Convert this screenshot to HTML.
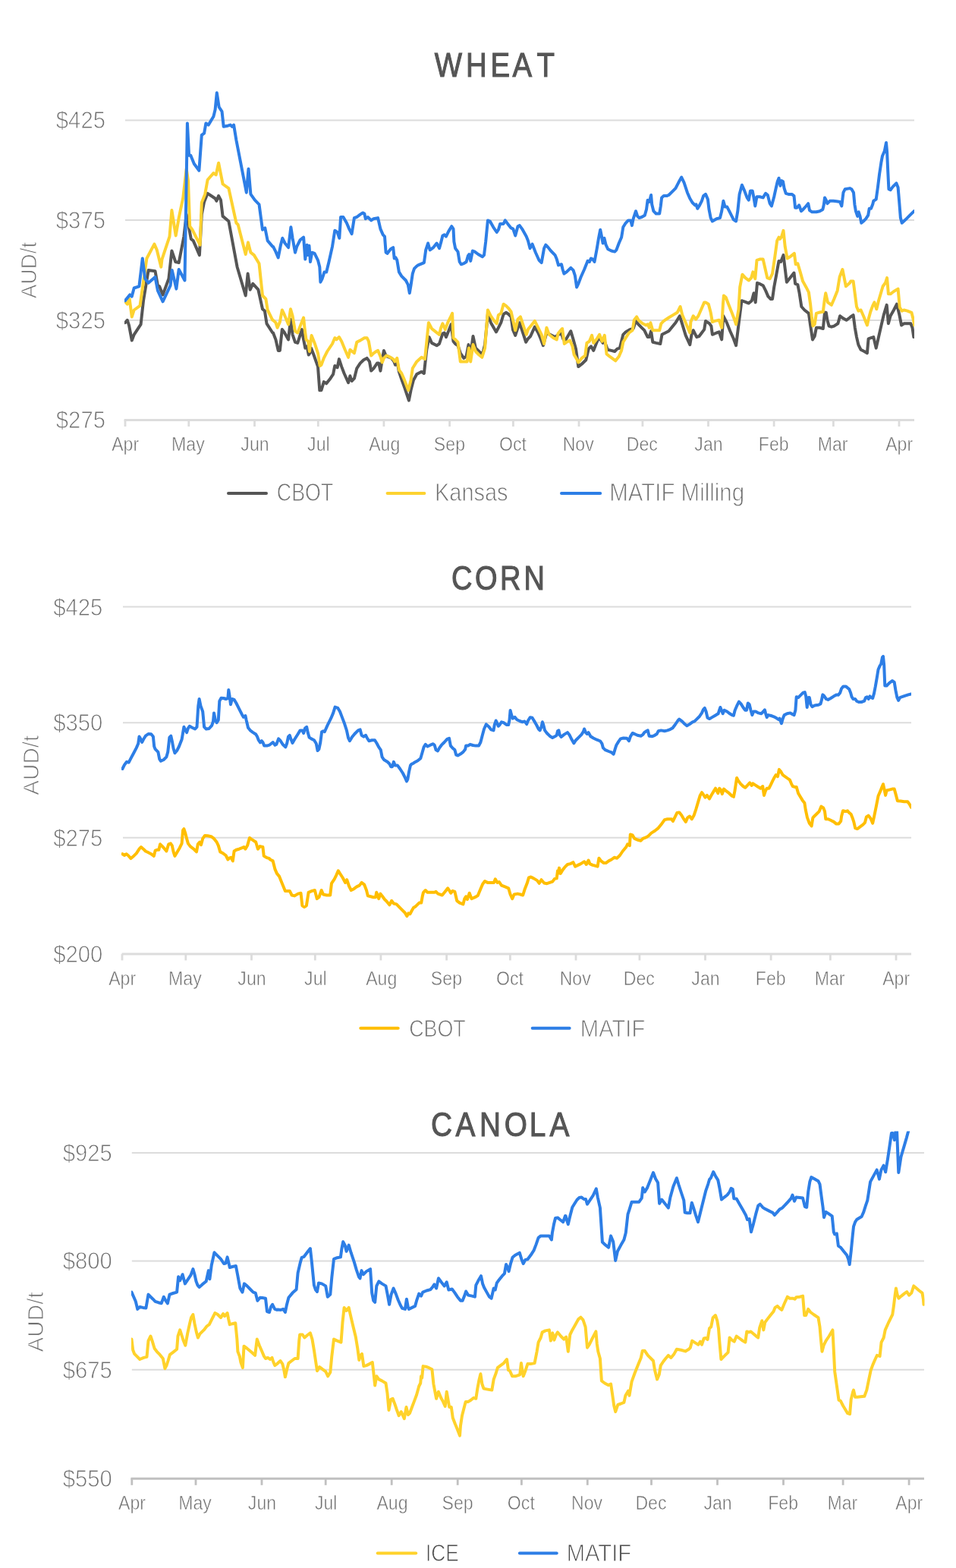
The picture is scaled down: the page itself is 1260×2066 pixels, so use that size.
<!DOCTYPE html><html><head><meta charset="utf-8"><title>Grain prices: Wheat, Corn, Canola</title><style>html,body{margin:0;padding:0;background:#fff;width:1260px;height:2066px;overflow:hidden}svg{display:block}text{font-family:'Liberation Sans', Arial, sans-serif}.lt{stroke:#fff;stroke-width:0.9}.lm{stroke:#fff;stroke-width:0.55}</style></head><body>
<svg width="1260" height="2066" viewBox="0 0 1260 2066">
<g>
<text transform="translate(0 101.00) scale(0.8547 1)" x="670.24 718.52 756.53 790.30 827.81" font-size="44.93" fill="#555555" stroke="#555555" stroke-width="1.10">WHEAT</text>
<line x1="165.0" y1="158.4" x2="1205.0" y2="158.4" stroke="#dcdcdc" stroke-width="2"/>
<line x1="165.0" y1="290.0" x2="1205.0" y2="290.0" stroke="#dcdcdc" stroke-width="2"/>
<line x1="165.0" y1="421.9" x2="1205.0" y2="421.9" stroke="#dcdcdc" stroke-width="2"/>
<line x1="163.6" y1="553.5" x2="1205.0" y2="553.5" stroke="#dcdcdc" stroke-width="3"/>
<line x1="165.0" y1="553.5" x2="165.0" y2="562.0" stroke="#dcdcdc" stroke-width="2.8"/>
<text class="lm" transform="translate(147.20 594.10) scale(0.8813 1)" font-size="26.23" fill="#6f6f6f">Apr</text>
<line x1="248.8" y1="553.5" x2="248.8" y2="562.0" stroke="#dcdcdc" stroke-width="2.8"/>
<text class="lm" transform="translate(226.07 594.10) scale(0.8813 1)" font-size="26.23" fill="#6f6f6f">May</text>
<line x1="335.5" y1="553.5" x2="335.5" y2="562.0" stroke="#dcdcdc" stroke-width="2.8"/>
<text class="lm" transform="translate(317.32 594.10) scale(0.8813 1)" font-size="26.23" fill="#6f6f6f">Jun</text>
<line x1="419.3" y1="553.5" x2="419.3" y2="562.0" stroke="#dcdcdc" stroke-width="2.8"/>
<text class="lm" transform="translate(405.08 594.10) scale(0.8813 1)" font-size="26.23" fill="#6f6f6f">Jul</text>
<line x1="505.9" y1="553.5" x2="505.9" y2="562.0" stroke="#dcdcdc" stroke-width="2.8"/>
<text class="lm" transform="translate(486.17 594.10) scale(0.8813 1)" font-size="26.23" fill="#6f6f6f">Aug</text>
<line x1="592.6" y1="553.5" x2="592.6" y2="562.0" stroke="#dcdcdc" stroke-width="2.8"/>
<text class="lm" transform="translate(571.87 594.10) scale(0.8813 1)" font-size="26.23" fill="#6f6f6f">Sep</text>
<line x1="676.4" y1="553.5" x2="676.4" y2="562.0" stroke="#dcdcdc" stroke-width="2.8"/>
<text class="lm" transform="translate(657.90 594.10) scale(0.8813 1)" font-size="26.23" fill="#6f6f6f">Oct</text>
<line x1="763.0" y1="553.5" x2="763.0" y2="562.0" stroke="#dcdcdc" stroke-width="2.8"/>
<text class="lm" transform="translate(741.64 594.10) scale(0.8813 1)" font-size="26.23" fill="#6f6f6f">Nov</text>
<line x1="846.9" y1="553.5" x2="846.9" y2="562.0" stroke="#dcdcdc" stroke-width="2.8"/>
<text class="lm" transform="translate(825.71 594.10) scale(0.8813 1)" font-size="26.23" fill="#6f6f6f">Dec</text>
<line x1="933.5" y1="553.5" x2="933.5" y2="562.0" stroke="#dcdcdc" stroke-width="2.8"/>
<text class="lm" transform="translate(915.35 594.10) scale(0.8813 1)" font-size="26.23" fill="#6f6f6f">Jan</text>
<line x1="1020.1" y1="553.5" x2="1020.1" y2="562.0" stroke="#dcdcdc" stroke-width="2.8"/>
<text class="lm" transform="translate(999.78 594.10) scale(0.8813 1)" font-size="26.23" fill="#6f6f6f">Feb</text>
<line x1="1098.4" y1="553.5" x2="1098.4" y2="562.0" stroke="#dcdcdc" stroke-width="2.8"/>
<text class="lm" transform="translate(1077.68 594.10) scale(0.8813 1)" font-size="26.23" fill="#6f6f6f">Mar</text>
<line x1="1185.0" y1="553.5" x2="1185.0" y2="562.0" stroke="#dcdcdc" stroke-width="2.8"/>
<text class="lm" transform="translate(1167.20 594.10) scale(0.8813 1)" font-size="26.23" fill="#6f6f6f">Apr</text>
<text class="lt" transform="translate(73.81 169.30) scale(0.9277 1)" font-size="31.59" fill="#6f6f6f">$425</text>
<text class="lt" transform="translate(73.81 300.90) scale(0.9277 1)" font-size="31.59" fill="#6f6f6f">$375</text>
<text class="lt" transform="translate(73.81 432.80) scale(0.9277 1)" font-size="31.59" fill="#6f6f6f">$325</text>
<text class="lt" transform="translate(73.81 564.40) scale(0.9277 1)" font-size="31.59" fill="#6f6f6f">$275</text>
<text class="lt" transform="translate(47.70 393.20) rotate(-90) scale(0.9624 1)" font-size="28.99" fill="#6f6f6f">AUD/t</text>
<clipPath id="clip_wheat"><rect x="164.0" y="100.0" width="1041.0" height="460.0"/></clipPath>
<g clip-path="url(#clip_wheat)">
<path d="M164.9 425.2 L167.8 421.8 L170.0 428.5 L173.8 448.6 L176.7 440.8 L185.6 427.4 L189.0 396.2 L195.6 356.1 L204.5 357.2 L207.9 376.2 L210.1 377.3 L214.6 388.4 L222.4 367.3 L226.4 330.5 L231.3 345.0 L235.7 346.1 L242.4 311.6 L245.7 282.6 L249.1 300.4 L251.8 314.9 L254.7 317.1 L262.9 336.1 L265.8 282.6 L269.1 265.9 L273.6 254.8 L283.6 261.5 L285.4 264.8 L288.1 258.1 L291.0 263.7 L293.6 284.9 L301.4 291.5 L312.6 351.7 L323.7 389.5 L326.6 360.6 L329.7 381.7 L333.3 373.9 L340.4 381.7 L346.0 407.3 L348.9 409.6 L351.5 426.3 L359.3 438.5 L360.0 438.5 L363.4 447.4 L366.7 461.9 L368.9 461.9 L371.8 434.1 L374.5 437.4 L380.1 447.4 L383.0 420.7 L385.6 440.8 L389.0 450.8 L392.3 451.9 L397.9 434.1 L400.1 447.4 L402.3 458.6 L404.6 456.3 L406.8 467.5 L408.4 465.3 L410.1 458.6 L413.5 467.5 L419.0 483.1 L421.3 514.3 L423.5 514.3 L426.8 503.1 L430.2 505.3 L434.6 499.8 L439.1 493.1 L441.3 482.0 L444.7 484.2 L446.9 473.1 L450.2 483.1 L453.6 492.0 L459.1 504.2 L461.4 495.3 L463.6 502.0 L466.9 498.7 L470.3 485.3 L474.7 478.6 L479.2 474.2 L483.6 471.9 L487.0 476.4 L489.2 488.6 L492.5 485.3 L497.0 478.6 L499.2 478.6 L501.4 488.6 L503.7 474.2 L505.9 461.9 L508.1 467.5 L510.4 469.7 L515.9 471.9 L519.3 476.4 L521.0 480.8 L523.3 475.3 L525.9 489.8 L529.3 499.8 L533.7 512.0 L538.9 527.6 L541.5 514.3 L544.9 500.9 L549.3 493.1 L555.6 489.8 L558.9 492.0 L562.3 460.8 L565.6 444.1 L569.0 451.9 L575.6 455.2 L579.0 453.0 L583.4 439.6 L585.7 438.5 L587.9 444.1 L591.2 436.3 L594.6 427.4 L597.5 449.7 L600.1 453.0 L603.5 455.2 L606.8 465.3 L611.3 471.9 L614.6 469.7 L617.5 454.1 L620.2 467.5 L623.5 443.0 L626.9 458.6 L631.3 463.0 L635.8 467.5 L639.1 454.1 L642.9 414.0 L646.9 425.2 L651.4 433.0 L654.0 437.4 L656.9 431.8 L660.3 425.2 L663.6 414.0 L666.9 411.8 L670.3 414.0 L673.6 417.4 L675.9 434.1 L679.2 441.9 L682.5 431.8 L684.8 425.2 L689.2 438.5 L693.2 450.8 L695.9 446.3 L699.2 443.0 L704.8 430.7 L709.3 438.5 L712.6 446.3 L715.9 455.2 L720.4 438.5 L724.9 440.8 L731.5 444.1 L736.0 440.8 L740.0 439.6 L742.2 446.3 L744.5 449.7 L747.8 444.1 L752.3 436.3 L755.6 447.4 L759.0 459.7 L762.3 483.1 L766.7 479.7 L772.3 474.2 L775.7 459.7 L779.0 456.3 L782.3 461.9 L785.7 453.0 L789.0 445.2 L792.4 448.6 L794.6 451.9 L796.8 449.7 L800.8 460.8 L805.7 461.9 L810.2 463.0 L813.5 459.7 L816.9 458.6 L821.3 440.8 L824.7 437.4 L830.2 434.1 L834.7 433.0 L838.0 422.9 L841.4 427.4 L845.8 431.8 L849.2 435.2 L853.6 444.1 L855.8 444.1 L858.1 436.3 L860.3 450.8 L864.7 451.9 L870.3 453.0 L872.5 440.8 L877.0 438.5 L881.4 436.3 L885.9 430.7 L890.4 425.2 L895.9 416.3 L899.3 427.4 L903.7 441.9 L909.3 454.1 L911.5 440.8 L913.7 435.2 L918.2 444.1 L921.5 443.0 L924.9 438.5 L928.2 434.1 L930.0 422.9 L931.6 424.1 L935.1 426.3 L937.4 429.6 L938.9 440.8 L944.5 438.5 L947.8 437.4 L951.2 447.4 L953.4 416.3 L957.9 425.2 L962.3 436.3 L966.8 446.3 L970.1 455.2 L973.5 427.4 L977.5 396.2 L981.2 397.3 L986.8 399.6 L990.8 396.2 L993.5 386.2 L995.7 398.4 L998.0 372.8 L1001.3 373.9 L1005.7 376.2 L1009.1 382.9 L1012.4 390.6 L1015.8 394.0 L1018.0 394.0 L1020.2 378.4 L1022.9 363.9 L1026.5 343.9 L1029.1 345.0 L1032.5 336.1 L1034.7 353.9 L1036.9 371.7 L1041.4 366.1 L1046.5 359.5 L1048.1 373.9 L1051.4 375.1 L1053.6 386.2 L1056.3 404.0 L1060.3 408.5 L1065.9 412.9 L1068.1 428.5 L1071.0 447.4 L1073.7 443.0 L1075.9 431.8 L1080.4 431.8 L1084.8 433.0 L1087.0 411.8 L1088.8 411.8 L1090.4 421.8 L1092.6 429.6 L1095.9 430.7 L1099.3 429.6 L1104.4 426.3 L1107.1 416.3 L1111.5 419.6 L1115.5 421.8 L1120.0 418.5 L1121.2 417.4 L1124.6 415.1 L1126.8 431.8 L1129.0 444.1 L1131.3 454.1 L1134.6 460.8 L1139.1 463.0 L1142.9 465.3 L1144.6 446.3 L1148.0 445.2 L1151.3 444.1 L1154.7 458.6 L1158.0 444.1 L1161.3 429.6 L1164.7 415.1 L1168.7 401.8 L1170.9 426.3 L1173.6 416.3 L1178.0 408.5 L1182.0 400.7 L1185.2 414.0 L1188.1 428.5 L1191.4 426.3 L1195.9 426.3 L1200.3 426.3 L1202.5 431.8 L1204.3 444.1" fill="none" stroke="#555555" stroke-width="4" stroke-linejoin="round" stroke-linecap="round"/>
<path d="M164.9 397.3 L167.8 400.7 L170.7 394.0 L173.8 417.4 L176.7 408.5 L184.5 402.9 L193.4 340.5 L203.4 321.6 L206.8 329.4 L212.3 351.7 L213.5 341.6 L223.5 311.6 L226.4 277.1 L231.7 310.5 L235.7 287.1 L241.3 260.4 L245.7 222.5 L248.0 238.1 L250.2 298.2 L253.5 302.7 L263.6 322.7 L265.8 267.0 L270.2 255.9 L273.6 237.0 L281.4 228.1 L284.7 230.3 L288.1 214.7 L293.6 242.5 L301.4 248.1 L311.4 293.8 L313.7 296.0 L323.7 335.0 L327.0 319.4 L330.4 332.7 L334.8 336.1 L341.5 347.2 L346.0 389.5 L350.4 394.0 L352.7 408.5 L359.3 421.8 L360.0 421.8 L363.4 425.2 L365.6 431.8 L368.9 424.1 L371.8 408.5 L374.5 414.0 L380.1 427.4 L383.0 407.3 L385.6 416.3 L389.0 436.3 L392.3 438.5 L395.7 429.6 L400.1 418.5 L401.7 434.1 L403.5 447.4 L406.1 449.7 L407.9 463.0 L410.6 441.9 L414.6 451.9 L419.0 465.3 L421.7 482.0 L423.5 480.8 L426.8 471.9 L431.3 463.0 L438.0 453.0 L441.3 445.2 L443.5 447.4 L446.9 444.1 L450.2 449.7 L454.7 460.8 L459.1 470.8 L461.4 460.8 L466.9 465.3 L470.3 450.8 L474.7 448.6 L480.3 445.2 L483.6 445.2 L485.9 449.7 L489.2 468.6 L492.5 465.3 L495.9 463.0 L498.1 461.9 L501.4 469.7 L503.7 477.5 L505.9 471.9 L509.2 468.6 L512.6 469.7 L518.2 473.1 L520.4 476.4 L523.3 471.9 L525.9 487.5 L529.3 492.0 L533.1 500.9 L538.2 514.3 L541.5 500.9 L543.8 485.3 L549.3 476.4 L555.6 470.8 L560.0 473.1 L564.9 425.2 L569.0 433.0 L574.5 437.4 L579.0 440.8 L581.2 431.8 L583.4 426.3 L586.8 434.1 L590.1 425.2 L593.5 418.5 L596.1 412.9 L597.5 445.2 L600.1 447.4 L603.5 450.8 L606.8 476.4 L611.3 476.4 L615.7 476.4 L618.0 458.6 L620.2 476.4 L623.5 454.1 L626.9 463.0 L631.3 467.5 L635.3 470.8 L639.1 458.6 L642.9 408.5 L646.9 416.3 L651.4 422.9 L654.7 426.3 L656.9 415.1 L660.3 412.9 L663.6 400.7 L666.9 402.9 L670.3 406.2 L673.6 410.7 L675.9 420.7 L679.2 435.2 L682.5 420.7 L685.9 417.4 L689.2 427.4 L693.7 440.8 L695.9 434.1 L700.4 428.5 L704.8 422.9 L709.3 431.8 L713.7 440.8 L717.1 453.0 L720.4 431.8 L723.7 440.8 L729.3 445.2 L733.8 447.4 L735.5 439.6 L740.0 434.1 L741.1 433.0 L743.8 453.0 L746.7 450.8 L751.2 448.6 L754.5 456.3 L756.7 467.5 L760.1 473.1 L762.3 477.5 L766.7 471.9 L771.2 468.6 L773.4 451.9 L776.8 449.7 L780.1 441.9 L782.3 451.9 L786.8 446.3 L790.1 440.8 L793.5 449.7 L796.8 441.9 L799.5 466.4 L803.5 469.7 L811.3 475.3 L815.7 469.7 L819.1 461.9 L821.3 450.8 L824.7 445.2 L829.1 438.5 L833.6 435.2 L835.8 421.8 L839.1 417.4 L841.4 421.8 L846.9 426.3 L851.4 428.5 L853.6 427.4 L855.8 431.8 L857.4 425.2 L860.3 435.2 L863.6 435.2 L869.2 435.2 L871.4 426.3 L874.8 422.9 L881.4 418.5 L887.0 415.1 L892.6 411.8 L896.6 404.0 L899.3 415.1 L903.7 425.2 L909.3 438.5 L910.4 424.1 L913.7 416.3 L917.1 420.7 L920.4 416.3 L923.8 408.5 L928.2 398.4 L930.0 398.4 L933.8 400.7 L936.7 411.8 L938.9 424.1 L942.3 422.9 L947.8 421.8 L951.2 431.8 L953.0 399.6 L953.9 389.5 L956.7 391.8 L960.1 400.7 L964.5 411.8 L967.9 420.7 L970.1 427.4 L973.5 407.3 L975.2 378.4 L978.4 361.7 L982.4 366.1 L986.8 369.5 L990.2 366.1 L992.4 358.4 L995.3 367.3 L997.5 342.8 L1001.3 341.6 L1005.7 341.6 L1008.0 351.7 L1011.3 366.1 L1014.7 367.3 L1018.0 360.6 L1021.3 338.3 L1024.2 317.1 L1026.5 312.7 L1028.0 314.9 L1030.2 311.6 L1032.5 303.8 L1034.7 324.9 L1037.6 340.5 L1041.4 338.3 L1046.9 333.9 L1048.7 348.3 L1051.4 347.2 L1054.7 358.4 L1058.1 370.6 L1062.5 378.4 L1065.9 385.1 L1068.1 400.7 L1069.7 416.3 L1071.4 429.6 L1073.7 427.4 L1075.9 412.9 L1079.2 411.8 L1084.8 410.7 L1086.6 396.2 L1088.2 386.2 L1091.0 398.4 L1095.9 401.8 L1099.3 394.0 L1103.7 382.9 L1106.6 365.0 L1110.4 355.0 L1114.9 377.3 L1120.0 372.8 L1121.2 370.6 L1124.6 370.6 L1126.8 387.3 L1129.0 404.0 L1131.3 409.6 L1134.6 408.5 L1138.0 416.3 L1140.2 421.8 L1142.9 428.5 L1144.6 420.7 L1147.3 410.7 L1150.2 402.9 L1152.4 398.4 L1155.3 407.3 L1158.0 396.2 L1161.3 385.1 L1163.6 377.3 L1166.9 372.8 L1169.1 366.1 L1170.9 387.3 L1173.6 387.3 L1178.0 384.0 L1183.6 380.6 L1185.8 405.1 L1188.7 409.6 L1191.4 408.5 L1195.9 409.6 L1201.4 411.8 L1203.7 420.7 L1205.2 428.5" fill="none" stroke="#fdd230" stroke-width="4" stroke-linejoin="round" stroke-linecap="round"/>
<path d="M164.9 396.2 L171.1 388.4 L173.8 390.6 L176.7 379.5 L183.4 377.3 L187.8 340.5 L191.2 367.3 L195.6 372.8 L204.5 365.0 L207.9 382.9 L214.6 397.3 L224.6 376.2 L226.8 356.1 L232.4 380.6 L235.7 355.0 L243.5 369.5 L246.9 162.4 L249.1 204.7 L251.3 204.7 L255.8 215.8 L262.4 224.7 L265.8 178.0 L269.1 175.7 L271.4 162.4 L274.7 164.6 L281.4 153.5 L283.6 144.5 L285.8 122.3 L288.7 141.2 L292.5 146.8 L294.7 166.8 L300.3 165.7 L303.7 164.6 L305.9 166.8 L308.1 164.6 L311.4 184.6 L324.8 253.7 L327.5 222.5 L330.4 255.9 L335.9 263.7 L341.5 269.3 L346.0 302.7 L349.3 300.4 L352.7 317.1 L359.3 324.9 L360.0 324.9 L363.4 331.6 L366.7 339.4 L370.0 322.7 L372.3 313.8 L375.6 320.5 L380.1 326.1 L383.4 299.3 L385.6 313.8 L389.0 332.7 L391.2 324.9 L395.7 316.0 L400.1 312.7 L402.3 341.6 L404.6 322.7 L406.1 336.1 L407.5 323.8 L409.0 345.0 L411.2 332.7 L414.6 333.9 L419.0 342.8 L421.3 351.7 L422.4 371.7 L424.6 367.3 L427.5 358.4 L430.2 358.4 L433.5 345.0 L438.0 324.9 L441.3 303.8 L444.7 306.0 L447.3 313.8 L449.1 286.0 L452.4 286.0 L456.9 293.8 L460.2 301.6 L463.6 308.2 L466.9 287.1 L470.3 286.0 L474.7 282.6 L478.1 280.4 L480.3 281.5 L481.8 288.2 L484.7 286.0 L489.2 290.4 L492.5 288.2 L498.1 287.1 L501.4 301.6 L504.8 309.4 L507.0 311.6 L508.6 332.7 L510.4 333.9 L514.8 328.3 L518.2 326.1 L519.7 340.5 L521.5 339.4 L523.3 342.8 L525.9 358.4 L529.3 363.9 L534.9 369.5 L537.8 375.1 L539.8 386.2 L541.5 376.2 L543.8 360.6 L546.0 353.9 L549.3 350.6 L551.1 349.4 L558.9 346.1 L561.2 329.4 L564.1 320.5 L566.7 329.4 L571.2 326.1 L575.6 320.5 L579.0 327.2 L581.2 319.4 L583.4 310.5 L585.7 309.4 L587.9 311.6 L591.2 304.9 L595.2 298.2 L597.5 301.6 L598.4 318.3 L600.1 327.2 L603.5 331.6 L605.7 345.0 L607.9 348.3 L611.3 347.2 L614.6 345.0 L616.8 337.2 L618.4 335.0 L620.2 343.9 L622.9 330.5 L625.7 331.6 L630.2 335.0 L635.8 338.3 L638.0 336.1 L640.2 318.3 L642.9 290.4 L645.8 291.5 L650.2 299.3 L654.7 306.0 L656.9 302.7 L659.2 294.9 L661.4 294.9 L663.6 294.9 L665.8 290.4 L669.2 294.9 L673.6 300.4 L676.3 301.6 L679.2 310.5 L682.5 298.2 L684.8 297.1 L688.1 301.6 L693.7 311.6 L695.9 317.1 L698.6 327.2 L701.5 321.6 L705.9 332.7 L710.4 342.8 L713.7 346.1 L717.1 327.2 L719.3 322.7 L722.6 326.1 L726.0 330.5 L731.5 336.1 L733.8 341.6 L736.0 349.4 L740.0 348.3 L741.6 355.0 L743.4 360.6 L746.7 358.4 L752.3 352.8 L755.6 356.1 L757.8 362.8 L760.1 378.4 L762.3 373.9 L765.6 365.0 L770.1 355.0 L774.5 343.9 L776.8 345.0 L779.0 340.5 L781.2 341.6 L783.5 345.0 L786.8 327.2 L789.0 313.8 L791.2 302.7 L793.0 311.6 L794.6 320.5 L796.4 313.8 L798.6 322.7 L801.3 328.3 L805.7 330.5 L810.2 331.6 L812.4 329.4 L815.7 320.5 L819.1 312.7 L821.3 299.3 L824.7 293.8 L828.0 290.4 L831.3 290.4 L832.9 297.1 L834.7 288.2 L838.0 278.2 L840.2 284.9 L842.5 287.1 L845.8 286.0 L849.8 283.7 L852.0 275.9 L853.6 263.7 L855.8 265.9 L858.1 257.0 L859.2 269.3 L861.4 278.2 L864.7 281.5 L869.2 281.5 L870.8 271.5 L872.1 260.4 L874.8 258.1 L878.8 258.1 L881.4 257.0 L885.9 252.6 L890.4 248.1 L894.4 240.3 L898.2 233.6 L901.5 240.3 L905.9 253.7 L909.3 261.5 L912.6 267.0 L916.0 270.4 L917.5 269.3 L919.3 274.8 L921.5 271.5 L924.9 264.8 L927.1 258.1 L930.0 255.9 L932.9 262.6 L934.5 275.9 L936.7 287.1 L938.9 291.5 L944.5 288.2 L949.0 287.1 L951.2 278.2 L953.4 264.8 L955.6 272.6 L958.3 272.6 L962.3 280.4 L966.8 289.3 L970.1 291.5 L972.3 278.2 L974.6 255.9 L977.9 243.7 L981.2 251.4 L984.6 260.4 L986.8 263.7 L989.0 251.4 L991.7 251.4 L993.5 260.4 L995.3 271.5 L997.5 259.2 L1001.3 259.2 L1005.7 260.4 L1009.1 254.8 L1011.8 257.0 L1014.7 268.2 L1016.9 271.5 L1020.2 259.2 L1022.9 247.0 L1024.7 239.2 L1026.5 234.7 L1028.5 244.8 L1030.2 238.1 L1032.0 239.2 L1033.6 248.1 L1035.8 254.8 L1039.2 255.9 L1043.6 255.9 L1046.5 258.1 L1048.1 273.7 L1050.3 273.7 L1053.2 270.4 L1055.9 278.2 L1058.5 275.9 L1062.5 271.5 L1065.2 268.2 L1067.0 277.1 L1070.3 279.3 L1075.9 279.3 L1080.4 278.2 L1084.4 275.9 L1085.9 269.3 L1087.0 260.4 L1088.8 263.7 L1090.4 268.2 L1093.7 264.8 L1098.2 264.8 L1102.6 265.3 L1107.1 265.9 L1109.3 271.5 L1111.5 253.7 L1113.8 249.2 L1120.0 248.1 L1122.4 249.2 L1125.0 253.7 L1126.4 269.3 L1127.9 278.2 L1130.2 284.9 L1131.7 279.3 L1133.5 284.9 L1135.3 293.8 L1138.0 291.5 L1141.3 288.2 L1144.2 283.7 L1145.7 274.8 L1148.0 274.8 L1150.2 269.3 L1151.3 264.8 L1154.7 262.6 L1156.9 247.0 L1159.1 229.2 L1161.3 214.7 L1162.9 205.8 L1165.8 199.1 L1168.0 188.0 L1169.1 200.2 L1170.2 224.7 L1171.4 249.2 L1173.6 250.3 L1176.9 245.9 L1181.4 241.4 L1183.6 247.0 L1185.2 265.9 L1186.9 287.1 L1188.7 293.8 L1193.6 289.3 L1199.2 283.7 L1204.8 278.2" fill="none" stroke="#2d7ee6" stroke-width="4" stroke-linejoin="round" stroke-linecap="round"/>
</g>
<line x1="301.0" y1="649.9" x2="351.0" y2="649.9" stroke="#555555" stroke-width="4" stroke-linecap="round"/>
<text class="lt" transform="translate(364.86 660.10) scale(0.8289 1)" font-size="32.32" fill="#6f6f6f">CBOT</text>
<line x1="510.6" y1="649.9" x2="559.4" y2="649.9" stroke="#fdd230" stroke-width="4" stroke-linecap="round"/>
<text class="lt" transform="translate(573.09 660.10) scale(0.8946 1)" font-size="32.32" fill="#6f6f6f">Kansas</text>
<line x1="740.0" y1="649.9" x2="791.2" y2="649.9" stroke="#2d7ee6" stroke-width="4" stroke-linecap="round"/>
<text class="lt" transform="translate(803.34 660.10) scale(0.9109 1)" font-size="32.32" fill="#6f6f6f">MATIF Milling</text>
</g>
<g>
<text transform="translate(0 776.80) scale(0.8595 1)" x="692.34 728.34 766.76 803.32" font-size="44.20" fill="#555555" stroke="#555555" stroke-width="1.10">CORN</text>
<line x1="162.0" y1="799.6" x2="1201.0" y2="799.6" stroke="#dcdcdc" stroke-width="2"/>
<line x1="162.0" y1="952.2" x2="1201.0" y2="952.2" stroke="#dcdcdc" stroke-width="2"/>
<line x1="162.0" y1="1103.8" x2="1201.0" y2="1103.8" stroke="#dcdcdc" stroke-width="2"/>
<line x1="160.6" y1="1256.9" x2="1201.0" y2="1256.9" stroke="#dcdcdc" stroke-width="3"/>
<line x1="161.0" y1="1256.9" x2="161.0" y2="1265.4" stroke="#dcdcdc" stroke-width="2.8"/>
<text class="lm" transform="translate(143.20 1297.50) scale(0.8813 1)" font-size="26.23" fill="#6f6f6f">Apr</text>
<line x1="244.8" y1="1256.9" x2="244.8" y2="1265.4" stroke="#dcdcdc" stroke-width="2.8"/>
<text class="lm" transform="translate(222.07 1297.50) scale(0.8813 1)" font-size="26.23" fill="#6f6f6f">May</text>
<line x1="331.5" y1="1256.9" x2="331.5" y2="1265.4" stroke="#dcdcdc" stroke-width="2.8"/>
<text class="lm" transform="translate(313.32 1297.50) scale(0.8813 1)" font-size="26.23" fill="#6f6f6f">Jun</text>
<line x1="415.3" y1="1256.9" x2="415.3" y2="1265.4" stroke="#dcdcdc" stroke-width="2.8"/>
<text class="lm" transform="translate(401.08 1297.50) scale(0.8813 1)" font-size="26.23" fill="#6f6f6f">Jul</text>
<line x1="501.9" y1="1256.9" x2="501.9" y2="1265.4" stroke="#dcdcdc" stroke-width="2.8"/>
<text class="lm" transform="translate(482.17 1297.50) scale(0.8813 1)" font-size="26.23" fill="#6f6f6f">Aug</text>
<line x1="588.6" y1="1256.9" x2="588.6" y2="1265.4" stroke="#dcdcdc" stroke-width="2.8"/>
<text class="lm" transform="translate(567.87 1297.50) scale(0.8813 1)" font-size="26.23" fill="#6f6f6f">Sep</text>
<line x1="672.4" y1="1256.9" x2="672.4" y2="1265.4" stroke="#dcdcdc" stroke-width="2.8"/>
<text class="lm" transform="translate(653.90 1297.50) scale(0.8813 1)" font-size="26.23" fill="#6f6f6f">Oct</text>
<line x1="759.0" y1="1256.9" x2="759.0" y2="1265.4" stroke="#dcdcdc" stroke-width="2.8"/>
<text class="lm" transform="translate(737.64 1297.50) scale(0.8813 1)" font-size="26.23" fill="#6f6f6f">Nov</text>
<line x1="842.9" y1="1256.9" x2="842.9" y2="1265.4" stroke="#dcdcdc" stroke-width="2.8"/>
<text class="lm" transform="translate(821.71 1297.50) scale(0.8813 1)" font-size="26.23" fill="#6f6f6f">Dec</text>
<line x1="929.5" y1="1256.9" x2="929.5" y2="1265.4" stroke="#dcdcdc" stroke-width="2.8"/>
<text class="lm" transform="translate(911.35 1297.50) scale(0.8813 1)" font-size="26.23" fill="#6f6f6f">Jan</text>
<line x1="1016.1" y1="1256.9" x2="1016.1" y2="1265.4" stroke="#dcdcdc" stroke-width="2.8"/>
<text class="lm" transform="translate(995.78 1297.50) scale(0.8813 1)" font-size="26.23" fill="#6f6f6f">Feb</text>
<line x1="1094.4" y1="1256.9" x2="1094.4" y2="1265.4" stroke="#dcdcdc" stroke-width="2.8"/>
<text class="lm" transform="translate(1073.68 1297.50) scale(0.8813 1)" font-size="26.23" fill="#6f6f6f">Mar</text>
<line x1="1181.0" y1="1256.9" x2="1181.0" y2="1265.4" stroke="#dcdcdc" stroke-width="2.8"/>
<text class="lm" transform="translate(1163.20 1297.50) scale(0.8813 1)" font-size="26.23" fill="#6f6f6f">Apr</text>
<text class="lt" transform="translate(70.21 810.50) scale(0.9277 1)" font-size="31.59" fill="#6f6f6f">$425</text>
<text class="lt" transform="translate(70.21 963.10) scale(0.9277 1)" font-size="31.59" fill="#6f6f6f">$350</text>
<text class="lt" transform="translate(70.21 1114.70) scale(0.9277 1)" font-size="31.59" fill="#6f6f6f">$275</text>
<text class="lt" transform="translate(70.21 1267.80) scale(0.9277 1)" font-size="31.59" fill="#6f6f6f">$200</text>
<text class="lt" transform="translate(50.90 1047.80) rotate(-90) scale(1.0246 1)" font-size="28.99" fill="#6f6f6f">AUD/t</text>
<clipPath id="clip_corn"><rect x="160.0" y="790.0" width="1041.0" height="470.0"/></clipPath>
<g clip-path="url(#clip_corn)">
<path d="M161.4 1125.2 L164.2 1127.0 L166.4 1125.2 L168.8 1127.0 L172.5 1131.1 L176.2 1127.9 L179.8 1124.3 L183.5 1118.7 L185.9 1116.0 L189.0 1118.7 L191.8 1121.5 L195.5 1123.3 L199.2 1125.2 L202.8 1127.9 L204.7 1120.6 L207.4 1119.7 L209.3 1119.7 L211.1 1112.3 L214.8 1116.0 L219.4 1121.5 L222.2 1112.3 L224.9 1111.4 L226.8 1114.1 L228.6 1122.4 L230.4 1127.9 L233.2 1123.3 L236.9 1116.9 L239.6 1111.4 L241.1 1093.9 L242.4 1092.1 L244.2 1097.6 L246.1 1104.9 L247.9 1111.4 L250.7 1115.1 L255.3 1118.7 L259.0 1122.4 L260.8 1112.3 L263.2 1109.5 L265.0 1113.2 L267.2 1104.9 L270.0 1100.9 L273.7 1101.3 L278.3 1102.2 L282.0 1104.9 L285.6 1109.5 L287.8 1114.1 L290.2 1122.4 L293.9 1124.3 L297.6 1127.0 L300.4 1132.5 L302.2 1130.7 L304.4 1129.8 L306.8 1134.4 L308.6 1121.5 L311.4 1119.7 L315.1 1118.7 L319.7 1116.9 L321.5 1116.0 L323.4 1118.7 L326.1 1114.1 L328.9 1104.0 L331.6 1105.9 L337.2 1109.5 L339.9 1118.7 L342.7 1115.1 L346.4 1116.0 L347.8 1127.9 L351.0 1129.8 L355.0 1131.1 L356.0 1132.5 L359.7 1134.4 L362.5 1145.4 L364.9 1150.9 L368.0 1154.6 L371.7 1163.8 L375.9 1173.9 L379.0 1173.9 L381.8 1173.9 L384.6 1179.5 L388.2 1180.4 L392.8 1177.6 L396.5 1176.7 L398.4 1193.3 L401.1 1195.1 L403.9 1193.3 L406.6 1175.8 L411.2 1173.9 L414.9 1173.0 L417.7 1184.1 L420.4 1182.2 L423.7 1173.0 L426.0 1178.5 L430.6 1179.5 L435.2 1179.5 L437.0 1163.8 L440.7 1158.3 L443.4 1152.8 L445.8 1147.3 L448.0 1150.9 L451.7 1156.5 L455.0 1162.9 L457.2 1159.2 L460.0 1167.5 L462.8 1173.0 L466.4 1171.2 L470.1 1168.4 L473.8 1166.6 L476.6 1162.9 L480.2 1165.7 L483.0 1173.0 L484.8 1180.4 L488.5 1181.3 L492.2 1182.2 L495.0 1182.2 L496.2 1175.8 L497.7 1179.5 L499.2 1184.1 L501.4 1177.6 L504.2 1181.3 L506.9 1185.0 L509.7 1187.7 L513.4 1192.3 L516.1 1186.8 L518.9 1190.5 L522.6 1191.4 L526.2 1195.1 L529.9 1198.8 L533.6 1202.5 L536.4 1207.1 L538.2 1203.4 L540.4 1204.3 L542.8 1199.7 L545.0 1196.0 L547.9 1194.2 L552.5 1189.6 L555.2 1189.6 L556.7 1181.3 L558.0 1175.8 L560.8 1173.0 L563.5 1175.8 L568.1 1175.8 L572.7 1175.8 L574.6 1174.9 L577.3 1177.6 L582.8 1179.5 L586.5 1174.9 L590.2 1170.3 L592.0 1173.0 L594.2 1176.7 L596.6 1173.9 L599.4 1174.9 L602.2 1186.8 L605.8 1189.6 L610.4 1191.4 L612.3 1184.1 L614.1 1181.3 L616.0 1185.0 L618.7 1176.7 L621.5 1184.1 L626.1 1182.2 L629.8 1180.0 L633.4 1171.2 L636.2 1164.7 L639.0 1161.1 L642.6 1162.9 L647.2 1162.9 L650.9 1162.9 L652.8 1158.3 L655.5 1162.9 L657.9 1162.0 L661.0 1166.6 L665.6 1168.4 L670.2 1170.3 L672.6 1178.5 L675.2 1184.1 L677.6 1178.5 L682.2 1177.6 L685.9 1178.5 L689.2 1179.5 L691.8 1171.2 L694.7 1163.8 L696.9 1156.5 L699.7 1155.5 L703.4 1157.4 L708.0 1160.1 L710.7 1163.8 L713.5 1159.2 L717.2 1163.5 L720.8 1164.2 L724.5 1162.9 L728.2 1161.6 L731.0 1157.9 L733.7 1157.4 L735.0 1147.3 L735.7 1150.9 L737.0 1143.6 L738.8 1150.9 L741.6 1146.3 L744.3 1142.7 L748.0 1139.0 L751.7 1138.1 L755.4 1136.2 L758.1 1141.7 L761.8 1139.9 L765.5 1138.1 L770.1 1135.3 L772.8 1139.0 L775.6 1133.5 L777.4 1138.1 L781.1 1139.9 L784.8 1140.8 L787.6 1141.7 L789.4 1130.7 L792.2 1134.4 L795.8 1137.1 L798.6 1137.1 L802.3 1134.4 L806.0 1132.5 L809.6 1129.8 L813.3 1130.7 L817.0 1127.0 L820.7 1121.5 L825.3 1116.0 L827.1 1112.3 L829.9 1114.1 L830.8 1099.4 L833.6 1100.3 L836.3 1104.9 L840.9 1106.8 L844.6 1107.7 L847.4 1104.9 L852.0 1103.1 L854.7 1101.3 L858.4 1097.6 L863.0 1094.8 L867.6 1091.1 L871.3 1086.6 L875.9 1080.1 L879.6 1079.2 L885.1 1079.2 L886.9 1082.0 L889.7 1076.4 L892.4 1070.9 L895.2 1070.4 L898.0 1073.7 L900.7 1078.3 L903.8 1082.9 L906.2 1077.4 L909.0 1075.5 L911.8 1079.2 L914.5 1074.6 L917.3 1066.3 L920.0 1057.1 L922.8 1047.9 L925.0 1044.2 L927.0 1047.0 L929.4 1050.7 L931.9 1047.9 L934.9 1052.5 L938.0 1047.0 L940.8 1042.4 L943.0 1038.7 L944.4 1041.5 L946.3 1045.2 L948.1 1038.7 L950.0 1040.6 L951.8 1046.1 L954.0 1039.6 L957.3 1042.4 L961.0 1045.2 L964.7 1048.8 L966.9 1049.8 L968.4 1042.4 L969.8 1033.2 L971.1 1024.9 L973.0 1028.6 L975.7 1032.3 L979.4 1036.0 L982.2 1037.8 L984.9 1035.0 L988.2 1031.4 L990.8 1035.0 L992.3 1032.3 L995.0 1034.1 L998.7 1036.5 L1002.4 1038.7 L1005.2 1036.0 L1007.0 1047.9 L1008.8 1042.4 L1010.7 1038.7 L1013.4 1038.7 L1015.8 1034.1 L1018.4 1028.6 L1020.8 1024.0 L1022.6 1021.2 L1025.0 1023.1 L1026.9 1013.9 L1029.1 1016.6 L1031.8 1021.2 L1034.6 1023.1 L1037.9 1025.5 L1041.0 1027.7 L1042.9 1032.3 L1044.7 1036.0 L1047.5 1036.9 L1049.7 1036.9 L1052.1 1045.2 L1054.8 1049.8 L1057.6 1054.4 L1060.4 1058.0 L1061.8 1067.2 L1064.0 1077.4 L1066.8 1084.7 L1069.6 1088.4 L1071.4 1077.4 L1073.2 1075.5 L1076.0 1072.8 L1079.7 1069.1 L1082.4 1062.6 L1085.2 1064.5 L1087.0 1069.1 L1088.3 1079.2 L1091.6 1079.2 L1095.3 1081.0 L1099.0 1082.9 L1102.3 1085.6 L1105.4 1085.6 L1108.2 1082.0 L1109.1 1075.5 L1111.0 1068.2 L1115.0 1069.1 L1117.0 1068.2 L1119.2 1070.9 L1121.6 1072.8 L1123.5 1077.4 L1125.3 1082.9 L1127.2 1091.1 L1129.9 1092.1 L1133.6 1089.3 L1137.3 1086.6 L1140.0 1083.8 L1141.9 1076.4 L1144.6 1074.6 L1147.4 1078.3 L1150.2 1084.7 L1152.0 1076.4 L1154.8 1062.6 L1157.5 1048.8 L1160.3 1042.4 L1162.1 1037.8 L1164.0 1033.2 L1165.8 1041.5 L1167.1 1047.9 L1168.6 1041.5 L1172.2 1040.6 L1175.9 1039.6 L1178.7 1039.6 L1180.5 1046.1 L1182.9 1055.3 L1187.0 1055.6 L1191.6 1056.2 L1196.2 1056.2 L1198.9 1059.9 L1200.8 1063.6" fill="none" stroke="#ffbe00" stroke-width="4" stroke-linejoin="round" stroke-linecap="round"/>
<path d="M161.4 1013.0 L164.2 1007.4 L167.0 1003.8 L169.7 1004.7 L172.5 999.2 L176.2 992.3 L179.8 985.4 L182.2 979.8 L183.5 970.6 L184.8 972.5 L187.2 978.0 L189.0 974.3 L191.8 969.7 L195.5 967.0 L199.2 967.3 L201.9 970.6 L203.2 983.5 L204.7 987.2 L208.4 990.9 L210.2 1000.1 L212.0 1002.8 L215.7 1001.0 L219.4 997.3 L221.2 990.9 L223.4 971.6 L225.3 969.7 L227.1 978.0 L228.6 986.3 L230.4 992.3 L233.2 989.0 L236.0 983.5 L239.6 974.3 L242.4 957.8 L244.2 961.4 L246.1 965.1 L247.9 959.6 L249.8 956.8 L253.4 958.7 L257.1 960.5 L259.5 957.8 L261.3 930.2 L262.6 921.0 L264.5 930.2 L267.2 937.5 L269.1 957.8 L271.8 960.5 L275.5 960.0 L279.2 955.9 L281.0 950.4 L282.0 939.4 L283.8 948.6 L285.6 952.2 L287.8 948.6 L289.3 923.7 L291.5 919.7 L294.8 920.0 L297.6 921.0 L300.4 920.0 L301.3 909.0 L302.6 917.3 L304.0 928.3 L305.9 921.0 L308.6 921.9 L311.4 926.5 L315.1 933.8 L318.8 941.2 L321.0 944.9 L323.4 943.0 L324.6 948.6 L327.0 958.7 L329.8 962.4 L333.5 965.1 L337.2 967.5 L339.0 970.6 L340.8 975.2 L343.0 978.4 L344.9 976.2 L346.4 978.0 L348.2 982.6 L351.9 982.6 L355.0 981.7 L359.7 978.0 L362.5 981.7 L364.3 980.8 L367.1 973.4 L369.8 976.2 L372.6 980.8 L376.3 984.4 L378.1 979.8 L380.0 970.6 L381.8 968.8 L383.6 974.3 L385.5 978.9 L388.2 974.3 L392.8 967.0 L395.6 962.4 L398.4 962.4 L400.2 966.0 L402.0 959.6 L404.2 957.8 L405.7 965.1 L407.6 971.6 L410.3 973.4 L414.0 975.2 L416.8 979.8 L418.6 989.0 L420.4 987.2 L422.3 978.0 L424.1 964.2 L426.0 963.3 L427.8 964.2 L431.5 955.9 L436.1 946.7 L439.2 939.4 L441.6 931.6 L445.3 932.9 L448.0 937.5 L450.8 944.9 L453.6 952.2 L456.9 962.4 L459.1 972.5 L460.9 976.2 L463.7 971.6 L467.4 967.0 L472.0 962.4 L474.7 961.4 L476.6 968.8 L479.3 970.6 L482.1 968.8 L483.9 972.5 L486.3 976.2 L490.4 975.2 L494.0 975.2 L496.8 979.8 L499.2 984.4 L501.8 988.1 L503.6 997.3 L506.0 1001.0 L510.6 1003.8 L513.4 1006.5 L515.2 1010.2 L517.0 1010.2 L518.9 1003.8 L520.7 1008.4 L523.8 1008.4 L527.2 1013.0 L530.8 1018.5 L533.6 1024.0 L536.0 1029.5 L537.3 1026.8 L539.1 1016.6 L541.0 1008.4 L542.8 1006.5 L545.0 1005.6 L546.0 1004.7 L550.6 1002.3 L554.3 999.2 L556.2 992.7 L558.6 984.4 L560.8 980.8 L563.5 983.5 L567.2 981.7 L570.9 980.2 L572.7 981.7 L574.6 988.1 L577.0 989.4 L579.2 985.4 L581.9 981.7 L585.6 978.0 L589.3 973.9 L592.0 972.8 L593.9 982.6 L596.6 985.7 L599.4 988.1 L601.2 994.6 L603.4 995.5 L606.8 993.6 L610.4 990.9 L613.2 987.2 L614.1 982.6 L616.9 982.6 L619.6 980.8 L623.3 982.0 L627.0 982.6 L631.0 982.6 L633.4 978.0 L635.8 968.8 L638.0 960.5 L640.8 954.4 L644.5 957.8 L647.2 961.4 L650.5 962.4 L651.8 955.0 L653.7 949.5 L655.5 953.2 L656.8 956.8 L658.6 955.0 L661.0 951.3 L663.8 952.2 L667.5 955.0 L670.2 955.0 L671.5 948.6 L672.6 936.0 L673.9 941.2 L675.8 946.7 L678.5 944.9 L681.3 948.2 L685.0 950.0 L688.6 951.3 L691.4 950.4 L694.2 954.1 L696.0 949.5 L698.8 945.2 L701.5 945.8 L704.3 950.4 L707.0 955.0 L709.8 960.5 L711.6 962.4 L713.5 957.8 L714.9 951.3 L716.2 955.0 L718.1 962.4 L720.8 966.0 L724.5 969.7 L728.2 972.1 L731.0 970.6 L733.7 968.8 L735.0 963.3 L736.4 962.4 L737.9 968.8 L739.7 971.0 L743.4 967.9 L748.0 965.1 L750.8 968.8 L753.5 974.3 L756.3 979.3 L759.0 975.2 L762.7 971.6 L766.4 967.9 L768.8 964.2 L770.1 960.5 L771.9 965.1 L773.8 967.0 L775.6 965.1 L778.4 970.3 L782.0 972.5 L786.6 974.7 L791.2 976.5 L793.4 979.8 L794.9 985.4 L797.7 988.1 L802.3 990.0 L806.0 991.4 L808.7 993.6 L810.6 987.2 L812.4 981.7 L815.2 977.1 L817.9 973.4 L821.6 972.5 L826.2 972.8 L829.0 976.2 L830.8 970.6 L833.6 966.0 L836.3 967.0 L840.0 968.8 L844.6 969.7 L847.4 967.9 L849.2 965.1 L852.0 963.3 L853.8 962.4 L855.6 969.7 L859.3 970.3 L863.0 968.8 L865.8 967.0 L867.6 963.3 L871.3 962.4 L875.9 963.3 L879.6 962.4 L883.2 961.1 L886.5 959.2 L889.7 955.0 L893.4 949.5 L895.2 947.6 L898.9 950.4 L901.6 953.2 L905.3 956.3 L909.0 954.1 L912.7 951.3 L915.4 950.4 L918.2 947.6 L921.9 944.0 L925.0 939.4 L927.0 934.8 L928.8 932.9 L930.6 937.5 L932.5 945.8 L935.2 947.1 L938.9 944.9 L942.6 942.7 L946.6 940.3 L948.1 935.7 L949.4 932.0 L950.9 935.7 L952.7 940.3 L954.6 935.7 L958.2 937.5 L961.9 940.3 L964.7 942.1 L966.9 942.7 L968.7 935.7 L971.1 930.2 L973.9 924.6 L976.6 927.4 L979.4 932.0 L982.2 935.7 L984.0 935.7 L985.8 926.5 L987.7 928.3 L989.5 935.7 L991.4 942.1 L993.2 937.5 L996.0 937.5 L999.6 939.4 L1003.3 940.3 L1006.1 937.5 L1007.9 935.3 L1009.2 940.3 L1010.7 945.2 L1012.5 942.1 L1016.2 943.0 L1019.9 944.3 L1023.6 946.3 L1026.3 948.2 L1027.6 946.7 L1030.0 953.2 L1031.8 946.7 L1033.7 942.1 L1037.4 940.3 L1041.6 939.4 L1044.7 941.2 L1046.6 942.1 L1048.4 935.7 L1049.7 918.2 L1052.1 919.1 L1055.8 915.4 L1058.5 912.7 L1060.7 912.1 L1062.2 917.3 L1063.7 932.0 L1065.5 919.1 L1066.8 919.1 L1068.6 928.3 L1070.5 931.1 L1072.3 930.2 L1075.1 929.2 L1078.8 928.7 L1081.5 927.4 L1082.8 922.8 L1084.3 915.4 L1086.1 916.9 L1088.9 921.0 L1091.3 921.9 L1094.9 920.0 L1099.0 917.3 L1102.7 915.4 L1104.9 915.8 L1107.3 912.7 L1109.1 907.2 L1111.5 904.4 L1115.0 904.4 L1117.0 906.2 L1119.2 908.1 L1121.1 912.7 L1122.6 918.2 L1124.4 921.0 L1127.2 921.0 L1129.0 923.7 L1131.8 925.0 L1135.4 925.0 L1139.1 923.7 L1141.0 919.1 L1142.8 918.2 L1144.6 921.0 L1146.5 917.3 L1148.3 919.1 L1150.2 920.0 L1152.0 913.6 L1153.8 904.4 L1155.7 893.4 L1157.5 882.3 L1159.4 877.7 L1161.2 875.0 L1163.0 865.8 L1164.0 864.8 L1165.2 876.8 L1166.3 903.5 L1168.6 903.5 L1172.2 899.8 L1175.9 897.0 L1178.7 898.9 L1180.5 909.9 L1182.4 919.1 L1184.2 922.8 L1186.0 919.1 L1188.8 918.2 L1192.5 916.9 L1197.1 915.4 L1200.8 914.5" fill="none" stroke="#2d7ee6" stroke-width="4" stroke-linejoin="round" stroke-linecap="round"/>
</g>
<line x1="475.3" y1="1354.7" x2="524.7" y2="1354.7" stroke="#ffbe00" stroke-width="4" stroke-linecap="round"/>
<text class="lt" transform="translate(539.16 1366.00) scale(0.8387 1)" font-size="32.03" fill="#6f6f6f">CBOT</text>
<line x1="701.7" y1="1354.7" x2="750.6" y2="1354.7" stroke="#2d7ee6" stroke-width="4" stroke-linecap="round"/>
<text class="lt" transform="translate(764.87 1366.00) scale(0.9111 1)" font-size="32.03" fill="#6f6f6f">MATIF</text>
</g>
<g>
<text transform="translate(0 1496.90) scale(0.8661 1)" x="655.83 693.36 729.59 767.39 805.71 836.58" font-size="44.78" fill="#555555" stroke="#555555" stroke-width="1.10">CANOLA</text>
<line x1="173.8" y1="1519.0" x2="1218.0" y2="1519.0" stroke="#dcdcdc" stroke-width="2"/>
<line x1="173.8" y1="1661.4" x2="1218.0" y2="1661.4" stroke="#dcdcdc" stroke-width="2"/>
<line x1="173.8" y1="1804.7" x2="1218.0" y2="1804.7" stroke="#dcdcdc" stroke-width="2"/>
<line x1="172.4" y1="1948.3" x2="1218.0" y2="1948.3" stroke="#c0c0c0" stroke-width="3"/>
<line x1="173.8" y1="1948.3" x2="173.8" y2="1956.8" stroke="#c0c0c0" stroke-width="2.8"/>
<text class="lm" transform="translate(156.00 1988.90) scale(0.8813 1)" font-size="26.23" fill="#6f6f6f">Apr</text>
<line x1="258.0" y1="1948.3" x2="258.0" y2="1956.8" stroke="#c0c0c0" stroke-width="2.8"/>
<text class="lm" transform="translate(235.22 1988.90) scale(0.8813 1)" font-size="26.23" fill="#6f6f6f">May</text>
<line x1="345.0" y1="1948.3" x2="345.0" y2="1956.8" stroke="#c0c0c0" stroke-width="2.8"/>
<text class="lm" transform="translate(326.84 1988.90) scale(0.8813 1)" font-size="26.23" fill="#6f6f6f">Jun</text>
<line x1="429.2" y1="1948.3" x2="429.2" y2="1956.8" stroke="#c0c0c0" stroke-width="2.8"/>
<text class="lm" transform="translate(414.96 1988.90) scale(0.8813 1)" font-size="26.23" fill="#6f6f6f">Jul</text>
<line x1="516.2" y1="1948.3" x2="516.2" y2="1956.8" stroke="#c0c0c0" stroke-width="2.8"/>
<text class="lm" transform="translate(496.40 1988.90) scale(0.8813 1)" font-size="26.23" fill="#6f6f6f">Aug</text>
<line x1="603.2" y1="1948.3" x2="603.2" y2="1956.8" stroke="#c0c0c0" stroke-width="2.8"/>
<text class="lm" transform="translate(582.47 1988.90) scale(0.8813 1)" font-size="26.23" fill="#6f6f6f">Sep</text>
<line x1="687.4" y1="1948.3" x2="687.4" y2="1956.8" stroke="#c0c0c0" stroke-width="2.8"/>
<text class="lm" transform="translate(668.86 1988.90) scale(0.8813 1)" font-size="26.23" fill="#6f6f6f">Oct</text>
<line x1="774.3" y1="1948.3" x2="774.3" y2="1956.8" stroke="#c0c0c0" stroke-width="2.8"/>
<text class="lm" transform="translate(752.97 1988.90) scale(0.8813 1)" font-size="26.23" fill="#6f6f6f">Nov</text>
<line x1="858.5" y1="1948.3" x2="858.5" y2="1956.8" stroke="#c0c0c0" stroke-width="2.8"/>
<text class="lm" transform="translate(837.39 1988.90) scale(0.8813 1)" font-size="26.23" fill="#6f6f6f">Dec</text>
<line x1="945.5" y1="1948.3" x2="945.5" y2="1956.8" stroke="#c0c0c0" stroke-width="2.8"/>
<text class="lm" transform="translate(927.39 1988.90) scale(0.8813 1)" font-size="26.23" fill="#6f6f6f">Jan</text>
<line x1="1032.5" y1="1948.3" x2="1032.5" y2="1956.8" stroke="#c0c0c0" stroke-width="2.8"/>
<text class="lm" transform="translate(1012.19 1988.90) scale(0.8813 1)" font-size="26.23" fill="#6f6f6f">Feb</text>
<line x1="1111.1" y1="1948.3" x2="1111.1" y2="1956.8" stroke="#c0c0c0" stroke-width="2.8"/>
<text class="lm" transform="translate(1090.42 1988.90) scale(0.8813 1)" font-size="26.23" fill="#6f6f6f">Mar</text>
<line x1="1198.1" y1="1948.3" x2="1198.1" y2="1956.8" stroke="#c0c0c0" stroke-width="2.8"/>
<text class="lm" transform="translate(1180.30 1988.90) scale(0.8813 1)" font-size="26.23" fill="#6f6f6f">Apr</text>
<text class="lt" transform="translate(82.71 1529.90) scale(0.9277 1)" font-size="31.59" fill="#6f6f6f">$925</text>
<text class="lt" transform="translate(82.71 1672.30) scale(0.9277 1)" font-size="31.59" fill="#6f6f6f">$800</text>
<text class="lt" transform="translate(82.71 1815.60) scale(0.9277 1)" font-size="31.59" fill="#6f6f6f">$675</text>
<text class="lt" transform="translate(82.71 1959.20) scale(0.9277 1)" font-size="31.59" fill="#6f6f6f">$550</text>
<text class="lt" transform="translate(57.20 1781.50) rotate(-90) scale(1.0246 1)" font-size="28.99" fill="#6f6f6f">AUD/t</text>
<clipPath id="clip_canola"><rect x="173.0" y="1490.4" width="1045.5" height="470.0"/></clipPath>
<g clip-path="url(#clip_canola)">
<path d="M173.5 1764.6 L175.2 1778.8 L177.2 1783.9 L180.2 1786.9 L184.3 1791.0 L189.4 1788.9 L193.5 1787.9 L195.5 1766.6 L198.5 1760.5 L200.6 1766.6 L203.6 1776.7 L206.7 1780.8 L210.7 1784.9 L214.8 1790.0 L217.4 1803.2 L219.5 1799.1 L221.5 1793.0 L223.9 1784.9 L228.0 1781.8 L233.1 1777.8 L234.5 1760.5 L237.2 1752.4 L239.2 1758.5 L241.8 1766.6 L244.3 1772.7 L247.3 1756.4 L250.0 1744.2 L252.0 1736.1 L254.4 1732.0 L256.5 1744.2 L258.9 1755.4 L260.9 1762.5 L263.6 1757.4 L268.7 1752.4 L272.7 1747.3 L275.8 1745.2 L278.8 1739.1 L281.9 1733.0 L283.3 1730.0 L287.0 1732.0 L291.0 1736.1 L294.1 1731.0 L296.1 1734.1 L299.6 1730.0 L301.2 1738.1 L302.8 1745.2 L306.3 1744.2 L310.3 1743.2 L312.4 1764.6 L313.4 1780.8 L315.8 1786.9 L317.4 1795.0 L319.9 1802.2 L321.5 1773.7 L325.6 1776.7 L331.7 1781.8 L336.1 1785.9 L338.8 1764.6 L341.8 1772.7 L344.9 1779.8 L347.9 1786.9 L350.0 1790.0 L353.0 1788.9 L356.1 1791.0 L358.5 1788.9 L360.1 1794.0 L362.2 1799.1 L365.0 1797.1 L366.2 1796.1 L369.6 1793.0 L372.3 1797.1 L374.3 1805.2 L375.9 1814.3 L378.4 1803.2 L380.4 1796.1 L384.5 1793.0 L388.5 1790.0 L392.6 1790.0 L394.2 1766.6 L395.2 1758.5 L398.7 1758.5 L401.3 1762.5 L404.8 1759.5 L408.9 1756.4 L411.5 1764.6 L413.9 1778.8 L416.0 1793.0 L418.0 1806.2 L421.1 1801.1 L425.1 1804.2 L429.2 1807.2 L432.2 1813.3 L435.3 1808.3 L437.3 1786.9 L440.0 1764.6 L444.4 1766.6 L449.5 1768.6 L451.5 1742.2 L453.6 1722.9 L456.6 1727.0 L459.7 1722.9 L462.7 1736.1 L465.8 1749.3 L468.8 1761.5 L471.3 1776.7 L473.3 1792.0 L474.9 1785.9 L477.0 1783.9 L479.4 1800.1 L483.0 1799.1 L487.1 1797.1 L490.8 1795.0 L492.2 1807.2 L494.2 1825.5 L496.3 1813.3 L499.3 1817.4 L503.4 1819.4 L508.5 1822.5 L510.5 1835.7 L512.5 1858.0 L515.2 1843.8 L517.6 1842.8 L520.0 1848.9 L522.7 1857.0 L525.7 1865.2 L528.8 1860.1 L532.8 1869.2 L535.5 1854.0 L537.9 1864.1 L540.0 1862.1 L543.0 1854.0 L546.1 1845.9 L549.1 1837.7 L552.2 1826.5 L554.2 1822.5 L555.0 1813.3 L556.2 1815.4 L557.6 1800.1 L561.3 1800.7 L565.3 1802.2 L569.4 1804.2 L571.4 1823.5 L573.5 1834.7 L575.1 1842.8 L577.9 1833.7 L581.2 1841.8 L584.0 1846.9 L586.7 1853.0 L588.7 1833.7 L590.1 1841.8 L592.2 1854.0 L594.8 1854.0 L596.8 1868.2 L599.9 1876.3 L602.9 1883.5 L606.0 1891.6 L607.0 1878.4 L609.0 1865.2 L611.1 1857.0 L613.7 1846.9 L617.2 1846.9 L620.6 1844.8 L624.3 1841.8 L627.3 1842.8 L629.3 1829.6 L631.4 1818.4 L633.4 1810.3 L635.4 1823.5 L637.5 1829.6 L642.6 1830.6 L648.3 1831.6 L650.7 1817.4 L653.7 1809.3 L655.8 1802.2 L659.8 1799.1 L663.9 1796.1 L668.0 1791.0 L670.0 1805.2 L672.0 1806.2 L675.1 1813.3 L679.1 1813.3 L685.2 1811.3 L686.9 1796.1 L688.3 1805.2 L689.7 1813.3 L692.4 1806.2 L695.4 1797.1 L699.5 1797.1 L704.6 1796.1 L707.6 1780.8 L709.6 1768.6 L712.7 1762.5 L714.7 1755.4 L718.8 1753.4 L723.9 1752.4 L725.9 1766.6 L728.3 1756.4 L730.4 1765.6 L733.0 1758.5 L735.0 1755.4 L739.1 1760.5 L743.2 1764.6 L745.0 1762.5 L746.2 1761.5 L748.8 1780.8 L751.3 1758.5 L754.3 1752.4 L758.4 1745.2 L762.4 1738.1 L765.5 1735.7 L768.5 1739.1 L771.6 1748.3 L774.0 1775.7 L776.7 1771.7 L780.7 1763.5 L785.4 1754.4 L786.8 1770.7 L788.3 1780.8 L790.9 1790.0 L792.9 1819.4 L797.0 1822.5 L801.7 1825.1 L805.1 1823.5 L807.2 1837.7 L809.2 1852.0 L811.2 1860.1 L814.3 1850.9 L818.3 1849.5 L822.4 1847.9 L824.4 1838.7 L828.1 1832.6 L829.5 1838.7 L832.6 1820.4 L836.6 1809.3 L840.7 1799.1 L844.8 1788.9 L846.8 1779.8 L849.8 1779.8 L853.9 1785.9 L858.0 1790.0 L861.0 1793.0 L863.0 1805.2 L866.1 1817.4 L868.7 1811.3 L870.8 1799.1 L874.2 1794.0 L877.3 1790.0 L880.9 1785.9 L884.4 1788.9 L888.5 1783.9 L891.9 1777.8 L897.6 1778.8 L903.3 1780.4 L907.8 1777.8 L909.8 1775.7 L912.2 1766.6 L916.9 1769.6 L920.4 1771.7 L923.0 1767.6 L925.0 1771.7 L927.7 1763.5 L930.1 1762.9 L932.6 1765.0 L935.0 1750.3 L937.2 1748.3 L939.6 1736.1 L942.9 1733.0 L945.3 1740.2 L947.0 1750.3 L948.4 1768.6 L950.4 1791.0 L954.5 1786.9 L959.6 1781.8 L961.6 1762.5 L964.6 1765.6 L967.7 1767.6 L970.7 1760.5 L974.8 1763.5 L978.9 1766.6 L982.3 1768.6 L984.3 1754.4 L987.0 1755.4 L989.6 1754.4 L993.1 1757.4 L996.1 1760.1 L999.2 1762.5 L1001.2 1749.3 L1004.3 1740.2 L1006.3 1752.4 L1008.3 1742.2 L1011.4 1738.1 L1015.4 1733.0 L1019.5 1728.0 L1021.5 1722.9 L1024.6 1720.9 L1027.6 1723.9 L1030.3 1725.9 L1033.7 1717.8 L1037.8 1708.7 L1040.9 1710.7 L1044.9 1710.7 L1047.6 1711.7 L1049.4 1709.3 L1054.1 1708.7 L1058.1 1707.6 L1060.2 1733.0 L1062.2 1733.0 L1065.2 1724.9 L1068.3 1729.0 L1072.4 1732.0 L1078.5 1736.1 L1080.5 1748.3 L1081.9 1764.6 L1083.5 1780.8 L1085.6 1772.7 L1088.6 1766.6 L1092.7 1760.5 L1097.4 1752.4 L1098.8 1778.8 L1100.2 1807.2 L1102.8 1825.5 L1105.5 1844.8 L1107.9 1845.9 L1111.0 1852.0 L1114.0 1857.0 L1117.1 1862.1 L1120.1 1863.1 L1121.7 1843.8 L1124.2 1833.7 L1125.0 1831.6 L1127.1 1840.8 L1130.1 1840.8 L1134.2 1840.2 L1139.3 1839.8 L1142.3 1831.6 L1145.0 1818.4 L1147.8 1805.2 L1150.4 1798.1 L1153.5 1791.0 L1155.9 1785.9 L1159.6 1786.9 L1161.6 1768.6 L1164.7 1762.5 L1166.7 1752.4 L1170.8 1743.2 L1173.8 1737.1 L1176.3 1732.0 L1177.9 1720.9 L1179.5 1707.6 L1180.9 1697.5 L1182.6 1705.6 L1184.4 1710.7 L1188.0 1707.6 L1191.7 1704.6 L1195.2 1702.0 L1198.2 1706.6 L1201.3 1703.6 L1204.3 1694.4 L1207.4 1697.1 L1211.4 1700.5 L1215.5 1703.6 L1216.9 1711.7 L1217.5 1718.8" fill="none" stroke="#ffd22b" stroke-width="4" stroke-linejoin="round" stroke-linecap="round"/>
<path d="M173.5 1702.6 L176.2 1708.7 L178.8 1714.8 L181.3 1724.9 L184.3 1721.9 L188.4 1722.9 L192.4 1723.5 L195.5 1705.6 L198.5 1708.7 L201.6 1711.7 L204.6 1714.8 L208.7 1716.2 L212.8 1717.2 L215.8 1708.7 L218.3 1713.7 L220.9 1717.4 L223.5 1705.6 L228.0 1704.0 L233.1 1702.6 L235.1 1682.2 L237.2 1687.3 L240.6 1679.2 L243.9 1691.4 L247.3 1686.3 L251.4 1680.2 L254.4 1672.1 L256.5 1679.2 L258.5 1688.3 L260.5 1693.4 L262.6 1695.9 L266.6 1692.4 L271.7 1688.3 L274.8 1674.1 L276.4 1685.3 L278.8 1667.0 L282.5 1650.3 L287.0 1654.8 L291.0 1658.9 L295.1 1665.0 L297.5 1664.6 L299.6 1656.4 L301.2 1662.9 L302.8 1670.0 L306.3 1669.0 L310.9 1668.0 L313.4 1681.2 L316.4 1697.5 L319.5 1702.6 L321.9 1691.4 L325.6 1694.4 L329.6 1698.5 L333.7 1702.6 L336.7 1703.6 L339.4 1713.7 L342.8 1709.7 L345.9 1710.1 L350.0 1710.7 L352.0 1728.0 L355.0 1729.0 L357.1 1721.9 L359.1 1718.8 L362.2 1724.9 L365.0 1725.9 L366.2 1725.5 L370.2 1725.9 L373.3 1724.9 L375.9 1729.0 L377.8 1719.8 L380.4 1709.7 L385.5 1703.6 L390.6 1699.1 L392.6 1677.2 L395.7 1663.9 L397.7 1656.8 L400.7 1655.8 L404.8 1650.3 L408.9 1645.0 L410.9 1662.9 L413.9 1693.4 L416.0 1699.5 L418.0 1702.0 L420.0 1690.4 L424.1 1691.4 L429.2 1694.4 L431.8 1708.7 L435.3 1705.6 L437.3 1683.3 L440.0 1658.9 L444.4 1657.2 L448.9 1656.4 L450.5 1644.6 L452.2 1636.1 L454.6 1640.6 L456.6 1648.7 L459.7 1640.6 L462.7 1650.7 L466.8 1662.9 L469.8 1673.1 L472.9 1682.2 L474.5 1684.3 L476.5 1674.1 L479.0 1679.2 L483.0 1675.1 L488.1 1672.1 L490.2 1703.6 L492.2 1713.7 L494.2 1715.8 L496.3 1694.4 L499.3 1688.3 L503.4 1691.4 L508.5 1694.4 L511.1 1707.6 L513.1 1718.8 L515.6 1705.6 L518.6 1697.5 L521.7 1704.6 L524.7 1712.7 L527.8 1719.8 L530.2 1723.9 L533.9 1724.9 L535.9 1711.7 L537.9 1722.9 L538.9 1724.9 L543.0 1722.9 L547.1 1720.9 L549.1 1713.7 L552.2 1704.6 L555.0 1707.6 L557.2 1702.6 L562.3 1700.5 L567.4 1699.1 L570.4 1695.4 L572.4 1692.4 L575.1 1697.5 L577.9 1684.3 L581.6 1689.3 L585.7 1694.4 L588.7 1689.3 L591.3 1699.5 L595.8 1698.5 L598.9 1702.6 L602.9 1708.7 L607.0 1713.7 L609.6 1713.7 L612.1 1707.6 L614.1 1701.5 L617.2 1706.6 L622.2 1707.6 L625.9 1708.7 L627.3 1693.4 L630.4 1687.3 L634.0 1681.2 L636.1 1691.4 L638.1 1696.5 L641.5 1702.6 L645.0 1708.7 L647.6 1710.7 L650.7 1697.5 L652.7 1699.5 L654.8 1690.4 L657.8 1686.3 L661.9 1681.2 L664.9 1678.2 L667.0 1666.0 L669.0 1670.0 L670.6 1675.1 L673.0 1665.0 L675.5 1656.8 L679.1 1653.8 L684.8 1650.7 L687.3 1658.9 L689.7 1665.0 L692.4 1659.9 L695.4 1659.3 L699.5 1653.8 L703.5 1647.7 L706.6 1639.6 L709.6 1630.8 L712.7 1628.4 L717.8 1628.4 L723.9 1628.4 L726.9 1633.5 L727.9 1624.3 L730.0 1613.1 L732.0 1605.0 L735.0 1604.4 L738.1 1607.0 L742.2 1610.1 L745.0 1602.0 L745.6 1602.0 L746.8 1607.0 L748.8 1613.1 L750.9 1604.0 L754.3 1590.8 L757.4 1585.7 L760.4 1581.0 L763.5 1578.0 L766.5 1577.6 L769.6 1580.0 L772.0 1580.0 L774.0 1586.7 L777.7 1581.2 L781.7 1575.1 L785.8 1566.4 L787.8 1577.6 L790.9 1591.4 L792.3 1612.1 L793.9 1636.5 L797.0 1639.6 L802.1 1643.6 L805.1 1628.4 L808.2 1636.1 L811.2 1660.9 L813.9 1648.7 L818.3 1640.6 L822.4 1633.5 L824.8 1624.3 L827.5 1599.9 L829.5 1593.8 L832.6 1583.7 L837.6 1583.7 L842.3 1583.7 L845.8 1578.6 L847.2 1565.0 L849.8 1570.4 L852.9 1565.4 L857.0 1555.2 L861.0 1545.0 L864.1 1553.2 L867.1 1558.3 L869.1 1585.7 L872.2 1580.6 L876.3 1585.7 L880.9 1591.4 L883.4 1577.6 L887.4 1563.3 L891.9 1552.2 L894.6 1561.3 L898.6 1573.5 L901.3 1581.6 L902.7 1597.5 L905.7 1598.3 L909.4 1598.3 L911.8 1584.7 L913.9 1590.8 L916.9 1600.9 L920.0 1610.1 L923.0 1597.9 L927.1 1581.6 L930.1 1569.4 L933.2 1560.3 L935.0 1554.2 L936.8 1552.2 L940.2 1544.0 L943.3 1550.1 L946.3 1554.8 L948.4 1565.4 L951.0 1580.6 L954.5 1577.6 L958.5 1574.5 L961.6 1570.4 L963.6 1565.8 L965.7 1567.0 L967.3 1579.2 L970.7 1579.6 L974.8 1586.7 L978.9 1593.8 L982.9 1600.9 L985.0 1607.0 L987.6 1606.0 L990.0 1623.3 L993.1 1612.1 L996.1 1599.9 L999.2 1588.7 L1001.8 1586.7 L1005.3 1590.8 L1008.3 1592.8 L1013.4 1595.4 L1018.5 1597.9 L1020.9 1600.9 L1024.6 1596.9 L1027.6 1593.4 L1030.7 1591.8 L1034.8 1587.7 L1038.8 1583.3 L1042.5 1579.2 L1044.5 1574.5 L1047.0 1582.6 L1049.4 1577.6 L1054.1 1578.0 L1058.1 1578.6 L1060.8 1589.8 L1063.2 1590.8 L1065.2 1570.4 L1067.3 1557.2 L1069.3 1551.1 L1073.4 1553.2 L1078.5 1556.2 L1080.5 1560.3 L1082.5 1575.5 L1084.6 1590.8 L1086.0 1604.0 L1088.6 1596.9 L1091.7 1598.9 L1096.7 1602.4 L1098.8 1623.3 L1100.2 1626.3 L1102.8 1625.3 L1104.9 1641.6 L1107.9 1643.6 L1112.0 1648.7 L1116.1 1653.8 L1118.1 1658.9 L1119.7 1666.0 L1121.7 1648.7 L1123.8 1627.4 L1125.0 1616.2 L1127.1 1610.1 L1129.1 1607.0 L1132.2 1605.0 L1135.6 1603.0 L1138.3 1596.9 L1140.9 1588.7 L1143.3 1581.6 L1147.1 1557.1 L1155.7 1541.4 L1158.9 1553.6 L1161.4 1541.4 L1164.6 1535.7 L1167.1 1544.3 L1170.0 1527.1 L1175.0 1492.9 L1176.4 1492.9 L1178.9 1502.1 L1180.4 1490.7 L1182.1 1490.7 L1184.3 1545.0 L1187.5 1524.3 L1195.0 1498.6 L1197.1 1490.7 L1204.3 1448.6 L1218.6 1434.3" fill="none" stroke="#2d7ee6" stroke-width="4" stroke-linejoin="round" stroke-linecap="round"/>
</g>
<line x1="497.7" y1="2046.5" x2="548.2" y2="2046.5" stroke="#ffd22b" stroke-width="4" stroke-linecap="round"/>
<text class="lt" transform="translate(560.94 2056.90) scale(0.8220 1)" font-size="31.88" fill="#4a4a4a">ICE</text>
<line x1="684.9" y1="2046.5" x2="733.7" y2="2046.5" stroke="#2d7ee6" stroke-width="4" stroke-linecap="round"/>
<text class="lt" transform="translate(746.66 2056.90) scale(0.9175 1)" font-size="31.88" fill="#4a4a4a">MATIF</text>
</g>
</svg></body></html>
